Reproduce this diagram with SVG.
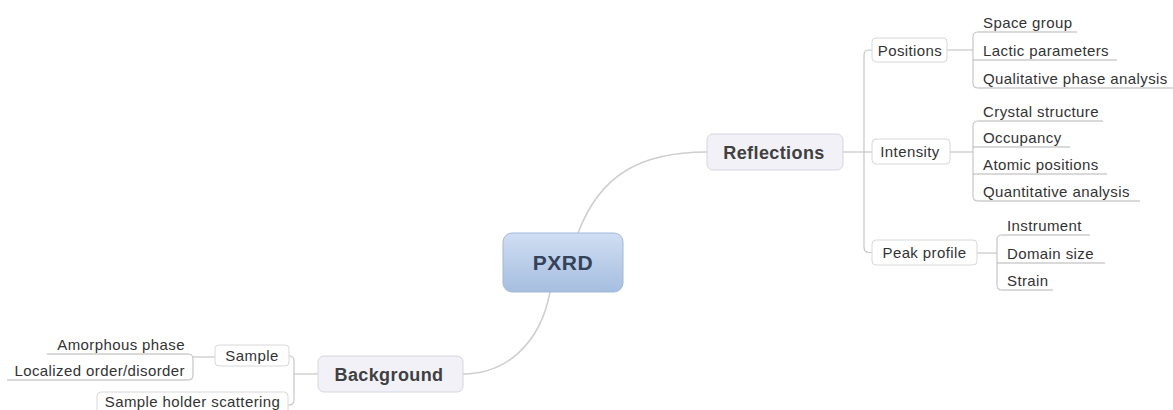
<svg xmlns="http://www.w3.org/2000/svg" width="1173" height="410" viewBox="0 0 1173 410">
<defs>
<linearGradient id="gc" x1="0" y1="0" x2="0" y2="1">
<stop offset="0" stop-color="#d0def2"/>
<stop offset="1" stop-color="#a6bee0"/>
</linearGradient>
<style>
.t{font-family:"Liberation Sans",Arial,sans-serif;font-size:15px;fill:#333;letter-spacing:0.4px}
.b{font-family:"Liberation Sans",Arial,sans-serif;font-size:18px;font-weight:bold;fill:#404040;letter-spacing:0.4px;text-anchor:middle}
.c{font-family:"Liberation Sans",Arial,sans-serif;font-size:21px;font-weight:bold;fill:#34425a;letter-spacing:0.5px;text-anchor:middle}
.m{text-anchor:middle}
.e{text-anchor:end}
.u{stroke:#b3b3b3;stroke-width:1;fill:none}
.bx{fill:#fff;stroke:#d8d8d8;stroke-width:1}
.mb{fill:#f1f1f7;stroke:#d5d5df;stroke-width:1}
.ln{stroke:#c6c6c6;stroke-width:1.2;fill:none}
.cv{stroke:#cecece;stroke-width:1.5;fill:none}
</style>
</defs>
<rect width="1173" height="410" fill="#fff"/>
<g id="connectors">
<path class="cv" d="M578,233 C600,175 640,152 707,152"/>
<path class="cv" d="M550,292 C540,345 505,374 463,374"/>
<path class="ln" d="M843,152 H872"/>
<path class="ln" d="M872,50 H869 Q864,50 864,55 V247 Q864,252.5 869,252.5 H872"/>
<path class="ln" d="M947,50 H973"/>
<path class="ln" d="M978,32 Q973,32 973,37 V83 Q973,88 978,88"/>
<path class="ln" d="M950,152 H973"/>
<path class="ln" d="M978,121 Q973,121 973,126 V196 Q973,201 978,201"/>
<path class="ln" d="M977,253 H997"/>
<path class="ln" d="M1002,235 Q997,235 997,240 V285 Q997,290 1002,290"/>
<path class="ln" d="M318,374 H294"/>
<path class="ln" d="M289,356 Q294,356 294,361 V400 Q294,405 289,405 H288"/>
<path class="ln" d="M215,357 H193"/>
<path class="ln" d="M188,354 Q193,354 193,359 V375 Q193,380 188,380"/>
</g>
<g id="pxrd">
<rect x="503" y="233" width="120" height="59" rx="9" fill="url(#gc)" stroke="#a2b8d9" stroke-width="1"/>
<text class="c" x="563" y="270">PXRD</text>
</g>
<g id="reflections">
<rect class="mb" x="707" y="134" width="136" height="36" rx="6"/>
<text class="b" x="774" y="158.5">Reflections</text>
</g>
<g id="background">
<rect class="mb" x="318" y="356" width="145" height="36" rx="6"/>
<text class="b" x="389" y="380.5">Background</text>
</g>
<g id="positions">
<rect class="bx" x="872" y="38" width="75" height="24" rx="4"/>
<text class="t m" x="910" y="55.5">Positions</text>
</g>
<g id="space-group">
<path class="u" d="M978,32 H1077"/>
<text class="t" x="983" y="28">Space group</text>
</g>
<g id="lactic-parameters">
<path class="u" d="M973,60 H1117"/>
<text class="t" x="983" y="56">Lactic parameters</text>
</g>
<g id="qualitative-phase-analysis">
<path class="u" d="M978,88 H1173"/>
<text class="t" x="983" y="84">Qualitative phase analysis</text>
</g>
<g id="intensity">
<rect class="bx" x="872" y="139" width="78" height="25" rx="4"/>
<text class="t m" x="910" y="157">Intensity</text>
</g>
<g id="crystal-structure">
<path class="u" d="M978,121 H1103"/>
<text class="t" x="983" y="117">Crystal structure</text>
</g>
<g id="occupancy">
<path class="u" d="M973,147 H1070"/>
<text class="t" x="983" y="143">Occupancy</text>
</g>
<g id="atomic-positions">
<path class="u" d="M973,174 H1107"/>
<text class="t" x="983" y="170">Atomic positions</text>
</g>
<g id="quantitative-analysis">
<path class="u" d="M978,201 H1140"/>
<text class="t" x="983" y="197">Quantitative analysis</text>
</g>
<g id="peak-profile">
<rect class="bx" x="872" y="240" width="105" height="25" rx="4"/>
<text class="t m" x="924.5" y="258">Peak profile</text>
</g>
<g id="instrument">
<path class="u" d="M1002,235 H1090"/>
<text class="t" x="1007" y="231">Instrument</text>
</g>
<g id="domain-size">
<path class="u" d="M997,263 H1105"/>
<text class="t" x="1007" y="259">Domain size</text>
</g>
<g id="strain">
<path class="u" d="M1002,290 H1053"/>
<text class="t" x="1007" y="286">Strain</text>
</g>
<g id="sample">
<rect class="bx" x="215" y="345" width="74" height="21" rx="4"/>
<text class="t m" x="252" y="361">Sample</text>
</g>
<g id="amorphous-phase">
<path class="u" d="M47,354 H188"/>
<text class="t e" x="185" y="350">Amorphous phase</text>
</g>
<g id="localized-order-disorder">
<path class="u" d="M7,380 H188"/>
<text class="t e" x="185" y="376">Localized order/disorder</text>
</g>
<g id="sample-holder-scattering">
<rect class="bx" x="97" y="392" width="191" height="26" rx="4"/>
<text class="t m" x="192.5" y="407">Sample holder scattering</text>
</g>
</svg>
